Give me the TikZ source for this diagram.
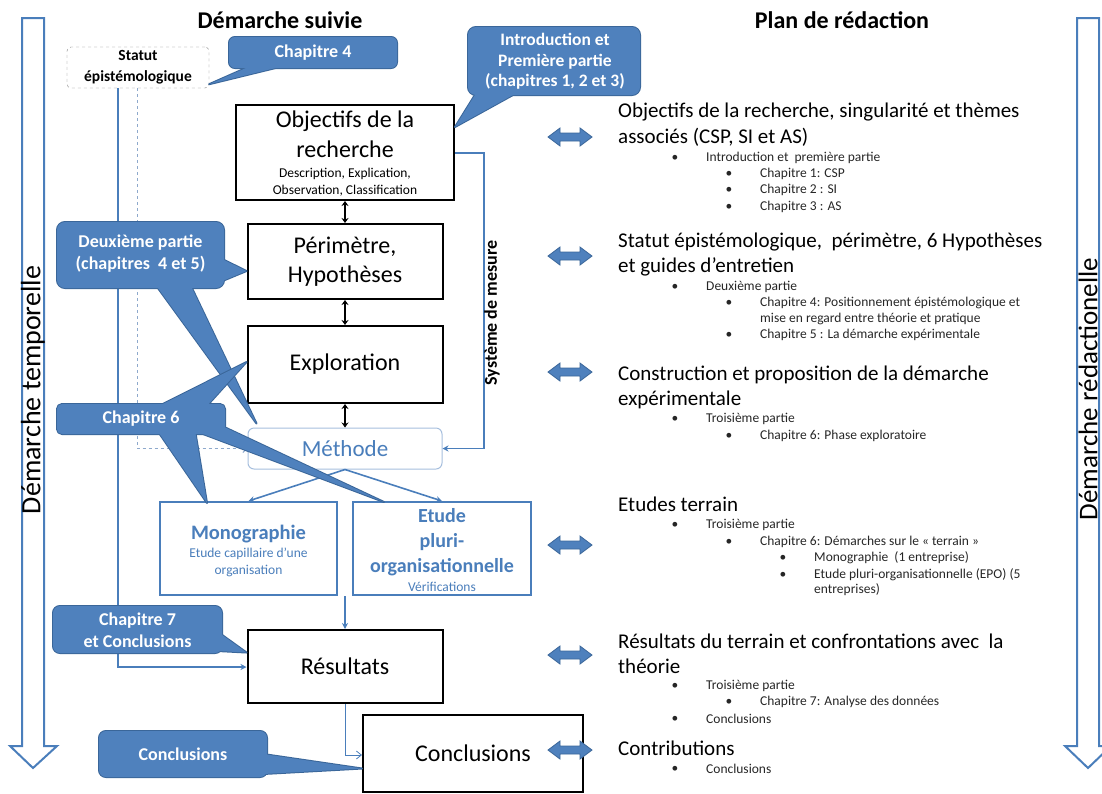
\documentclass[tikz,border=0pt]{standalone}
\usepackage{fontspec}
\setmainfont{Carlito}
\usetikzlibrary{arrows.meta,calc}
\definecolor{cfill}{HTML}{4F81BD}
\definecolor{cbord}{HTML}{3A6699}
\definecolor{lblue}{HTML}{4A7EBB}
\definecolor{pale}{HTML}{A7BFDE}
\definecolor{dashc}{HTML}{8EA9CC}
\definecolor{smgray}{HTML}{262626}
\newcommand{\fs}[2]{\fontsize{#1}{#2}\selectfont}
\newcommand{\bl}[4]{\node[smtxt] (#1b) at (#2,#3) {•};\node[smtxt, anchor=west] (#1) at ({#2+31},#3) {#4};}
\begin{document}
\begin{tikzpicture}[x=1pt,y=-1pt,
  blkbox/.style={draw=black, line width=2pt, fill=white, align=center, font=\fs{24}{29}},
  bluebox/.style={draw=lblue, line width=2pt, fill=white},
  bline/.style={draw=lblue, line width=1.6pt},
  dblk/.style={black, line width=1.5pt, {Stealth[length=5pt,width=7pt]}-{Stealth[length=5pt,width=7pt]}},
  cb/.style={draw=cbord, line width=2pt, line join=round},
  cf/.style={fill=cfill},
  ctext/.style={text=white, font=\bfseries\fs{18}{21.5}, align=center},
  smtxt/.style={font=\fs{13.5}{16}, text=smgray, inner sep=0pt},
  bigtxt/.style={font=\fs{21}{25}, anchor=west, inner sep=0pt},
  bigarr/.style={draw=lblue, line width=2pt, fill=white, line join=miter},
  dblarr/.pic={\filldraw[fill=cfill, draw=cbord, line width=0.8pt] (-22,0) -- (-10,-9) -- (-10,-4) -- (10,-4) -- (10,-9) -- (22,0) -- (10,9) -- (10,4) -- (-10,4) -- (-10,9) -- cycle;}
]
\useasboundingbox (0,0) rectangle (1102,793);

% big side arrows
\draw[bigarr] (22,18) -- (44,18) -- (44,746) -- (57,746) -- (33,768) -- (10,746) -- (22,746) -- cycle;
\node[rotate=90, font=\fs{28}{32}] (ltxt) at (33,390) {Démarche temporelle};
\draw[bigarr] (1077,18) -- (1099,18) -- (1099,746) -- (1111,746) -- (1088,768) -- (1065,746) -- (1077,746) -- cycle;
\node[rotate=90, font=\fs{27}{31}] (rtxt) at (1088,389) {Démarche rédactionelle};

% headers
\node[font=\bfseries\fs{24}{28}] (h1) at (280,20) {Démarche suivie};
\node[font=\bfseries\fs{24}{28}] (h2) at (842,20) {Plan de rédaction};

% statut
\node[draw=gray, dashed, rounded corners=4pt, minimum width=142pt, minimum height=41pt, align=center, font=\bfseries\fs{15.5}{21}] (statut) at (138,67.5) {Statut\\épistémologique};

% main boxes
\node[blkbox, minimum width=218pt, minimum height=95pt] (obj) at (345,152.5) {};
\node[font=\fs{24}{30}, align=center] (objT) at (345,134.5) {Objectifs de la\\recherche};
\node[font=\fs{13.5}{17}, align=center] (objS) at (345,182) {Description, Explication,\\Observation, Classification};
\node[blkbox, minimum width=195pt, minimum height=75pt] (per) at (345,261.5) {Périmètre,\\Hypothèses};
\node[blkbox, minimum width=195pt, minimum height=77pt] (exp) at (345,364.5) {Exploration};
\node[draw=pale, line width=1pt, rounded corners=6pt, fill=white, minimum width=194pt, minimum height=41pt, text=lblue, font=\fs{23}{27}] (meth) at (345,448.5) {Méthode};
\node[bluebox, minimum width=177pt, minimum height=93pt] (mono) at (248.5,548.5) {};
\node[text=lblue, font=\bfseries\fs{20.5}{24}] (monoT) at (248.5,534) {Monographie};
\node[text=lblue, font=\fs{13.5}{17}, align=center] (monoS) at (248.5,562) {Etude capillaire d’une\\organisation};
\node[bluebox, minimum width=178pt, minimum height=93pt] (etu) at (442,548.5) {};
\node[text=lblue, font=\bfseries\fs{20}{25}, align=center] (etuT) at (442,542) {Etude\\pluri-\\organisationnelle};
\node[text=lblue, font=\fs{13.5}{16}] (etuS) at (442,587) {Vérifications};
\node[blkbox, minimum width=195pt, minimum height=73pt] (res) at (345,666.5) {Résultats};
\node[blkbox, minimum width=220pt, minimum height=77pt] (conc) at (473,753.5) {Conclusions};

% connectors
\draw[dblk] (obj.south) -- (per.north);
\draw[dblk] (per.south) -- (exp.north);
\draw[dblk] (exp.south) -- (meth.north);
\draw[bline, -{Stealth[length=6pt,width=6pt]}] (meth.south) -- (mono.north);
\draw[bline, -{Stealth[length=6pt,width=6pt]}] (meth.south) -- (etu.north);
\coordinate (mid) at (345,596);
\draw[bline, -{Stealth[length=6pt,width=6pt]}] (mid) -- (res.north);
\coordinate (sm1) at (484,153);
\coordinate (sm2) at (484,448.5);
\draw[bline, -{Stealth[length=6pt,width=6pt]}] (obj.east |- sm1) -- (sm1) -- (sm2) -- (meth.east);
\node[rotate=90, font=\bfseries\fs{18}{20}] (smlab) at (492,313) {Système de mesure};
\coordinate (s1) at (118,667);
\draw[bline, -{Stealth[length=6pt,width=6pt]}] (statut.south -| s1) -- (s1) -- (res.west |- s1);
\coordinate (s2) at (137,448.5);
\draw[dashc, line width=1pt, dashed, -{Straight Barb[length=4pt]}] (statut.south -| s2) -- (s2) -- (meth.west);
\coordinate (rc) at (345,755);
\draw[lblue, line width=0.8pt, -{Straight Barb[length=5pt,width=8pt]}] (res.south) -- (rc) -- (conc.west |- rc);

% callout: Chapitre 4
\path[cb, rounded corners=6pt] (229,37) rectangle (397,68);
\path[cb] (255,64) -- (292,64) -- ($(statut.south east)+(0,-4)$) -- cycle;
\fill[cf, rounded corners=6pt] (229,37) rectangle (397,68);
\fill[cf] (255,64) -- (292,64) -- ($(statut.south east)+(0,-4)$) -- cycle;
\node[ctext] (c4) at (313,52.5) {Chapitre 4};

% callout: Introduction
\path[cb, rounded corners=8pt] (468,27) rectangle (640,95);
\path[cb] (478,90) -- (522,90) -- ($(obj.north east)+(0,23)$) -- cycle;
\fill[cf, rounded corners=8pt] (468,27) rectangle (640,95);
\fill[cf] (478,90) -- (522,90) -- ($(obj.north east)+(0,23)$) -- cycle;
\node[ctext, font=\bfseries\fs{17.5}{20.5}] (cintro) at (555,61.5) {Introduction et\\Première partie\\(chapitres 1, 2 et 3)};

% callout: Deuxieme partie
\path[cb, rounded corners=8pt] (57,222) rectangle (224,288);
\path[cb] (220,258) -- (220,282) -- ($(per.west)+(0,9.5)$) -- cycle;
\path[cb] (155,284) -- (190,284) -- ($(meth.north west)+(9,-4)$) -- cycle;
\fill[cf, rounded corners=8pt] (57,222) rectangle (224,288);
\fill[cf] (220,258) -- (220,282) -- ($(per.west)+(0,9.5)$) -- cycle;
\fill[cf] (155,284) -- (190,284) -- ($(meth.north west)+(9,-4)$) -- cycle;
\node[ctext, font=\bfseries\fs{18}{22}] (c2p) at (140.5,254) {Deuxième partie\\(chapitres\ \ 4 et 5)};

% callout: Chapitre 6
\path[cb, rounded corners=5pt] (57,404) rectangle (225,434);
\path[cb] (155,408) -- (205,408) -- ($(exp.west)+(0,-2.5)$) -- cycle;
\path[cb] (157,430) -- (195,430) -- ($(mono.north west)+(48,2)$) -- cycle;
\path[cb] (195,431) -- (222,426) -- ($(etu.north west)+(32,1)$) -- cycle;
\fill[cf, rounded corners=5pt] (57,404) rectangle (225,434);
\fill[cf] (155,408) -- (205,408) -- ($(exp.west)+(0,-2.5)$) -- cycle;
\fill[cf] (157,430) -- (195,430) -- ($(mono.north west)+(48,2)$) -- cycle;
\fill[cf] (195,431) -- (222,426) -- ($(etu.north west)+(32,1)$) -- cycle;
\node[ctext] (c6) at (141,419) {Chapitre 6};

% callout: Chapitre 7
\path[cb, rounded corners=7pt] (53,606) rectangle (222,653);
\path[cb] (218,632) -- (218,651) -- ($(res.west)+(0,-14)$) -- cycle;
\fill[cf, rounded corners=7pt] (53,606) rectangle (222,653);
\fill[cf] (218,632) -- (218,651) -- ($(res.west)+(0,-14)$) -- cycle;
\node[ctext, font=\bfseries\fs{18}{22}] (c7) at (137.5,630) {Chapitre 7\\et Conclusions};

% callout: Conclusions
\path[cb, rounded corners=7pt] (99,731) rectangle (267,777);
\path[cb] (263,754) -- (263,774) -- ($(conc.west)+(0,15)$) -- cycle;
\fill[cf, rounded corners=7pt] (99,731) rectangle (267,777);
\fill[cf] (263,754) -- (263,774) -- ($(conc.west)+(0,15)$) -- cycle;
\node[ctext] (cc) at (183,754) {Conclusions};

% double block arrows
\pic at (570,137) {dblarr};
\pic at (570,256) {dblarr};
\pic at (570,372) {dblarr};
\pic at (570,545) {dblarr};
\pic at (570,655) {dblarr};
\pic at (570,750) {dblarr};

% right column
\node[bigtxt] (p1a) at (618,112) {Objectifs de la recherche, singularité et thèmes};
\node[bigtxt] (p1b) at (618,137) {associés (CSP, SI et AS)};
\bl{p1c}{675}{158}{Introduction et\ \ première partie}
\bl{p1d}{729}{174}{Chapitre 1: CSP}
\bl{p1e}{729}{190}{Chapitre 2 : SI}
\bl{p1f}{729}{207}{Chapitre 3 : AS}

\node[bigtxt] (p2a) at (618,242) {Statut épistémologique,\ \ périmètre, 6 Hypothèses};
\node[bigtxt] (p2b) at (618,267) {et guides d’entretien};
\bl{p2c}{675}{287}{Deuxième partie}
\bl{p2d}{729}{303}{Chapitre 4: Positionnement épistémologique et}
\node[smtxt, anchor=west] (p2e) at (760,319) {mise en regard entre théorie et pratique};
\bl{p2f}{729}{335}{Chapitre 5 : La démarche expérimentale}

\node[bigtxt] (p3a) at (618,375) {Construction et proposition de la démarche};
\node[bigtxt] (p3b) at (618,400) {expérimentale};
\bl{p3c}{675}{419}{Troisième partie}
\bl{p3d}{729}{436}{Chapitre 6: Phase exploratoire}

\node[bigtxt] (p4a) at (618,504) {Etudes terrain};
\bl{p4b}{675}{525}{Troisième partie}
\bl{p4c}{729}{542}{Chapitre 6: Démarches sur le « terrain »}
\bl{p4d}{783}{558}{Monographie\ \ (1 entreprise)}
\bl{p4e}{783}{575}{Etude pluri-organisationnelle (EPO) (5}
\node[smtxt, anchor=west] (p4f) at (814,590) {entreprises)};

\node[bigtxt] (p5a) at (618,641) {Résultats du terrain et confrontations avec\ \ la};
\node[bigtxt] (p5b) at (618,666) {théorie};
\bl{p5c}{675}{686}{Troisième partie}
\bl{p5d}{729}{702}{Chapitre 7: Analyse des données}
\bl{p5e}{675}{719}{Conclusions}

\node[bigtxt] (p6a) at (618,748) {Contributions};
\bl{p6b}{675}{769}{Conclusions}
\end{tikzpicture}
\end{document}
